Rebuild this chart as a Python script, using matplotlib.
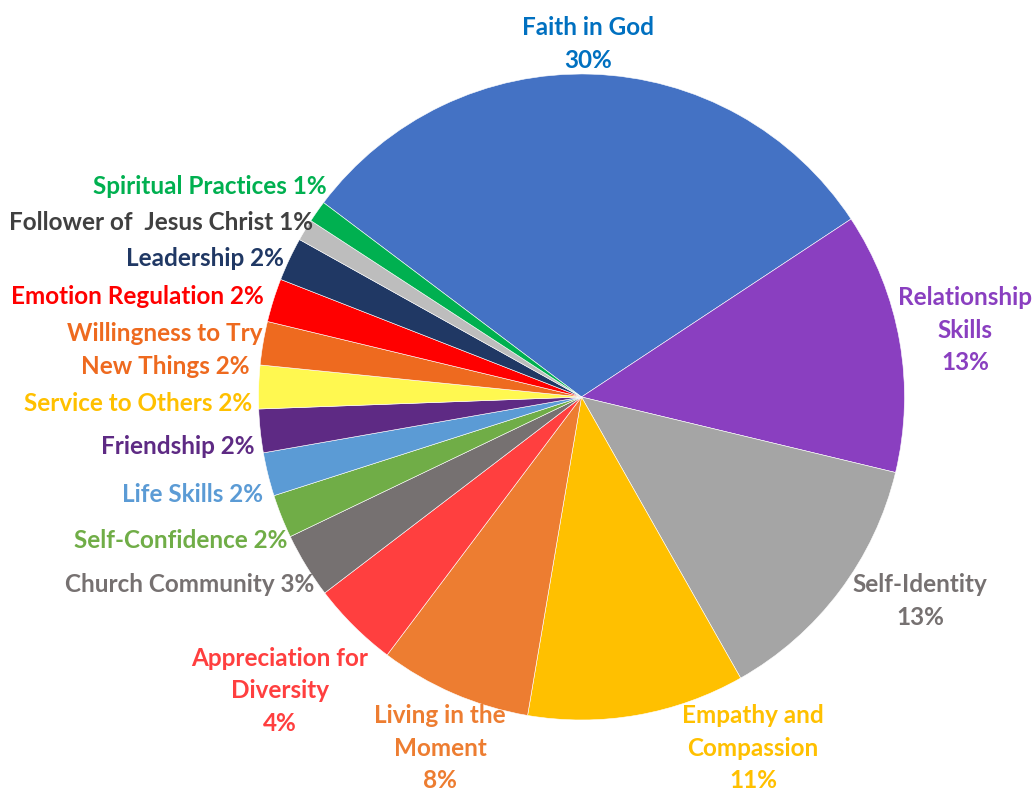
import matplotlib
matplotlib.use("Agg")
import matplotlib.pyplot as plt

# Survey responses: number of mentions per outcome category
categories = [
    "Faith in God", "Relationship\nSkills", "Self-Identity", "Empathy and\nCompassion",
    "Living in the\nMoment", "Appreciation for\nDiversity", "Church Community",
    "Self-Confidence", "Life Skills", "Friendship", "Service to Others",
    "Willingness to Try\nNew Things", "Emotion Regulation", "Leadership",
    "Follower of  Jesus Christ", "Spiritual Practices",
]
counts = [28, 12, 12, 10, 7, 4, 3, 2, 2, 2, 2, 2, 2, 2, 1, 1]

wedge_colors = [
    "#4472C4", "#8A3FC0", "#A5A5A5", "#FFC000", "#ED7D31", "#FF3F3F", "#767171",
    "#70AD47", "#5B9BD5", "#5E2A84", "#FFF850", "#EE6A1F", "#FF0000", "#203864",
    "#BDBDBD", "#00B050",
]
text_colors = [
    "#0070C0", "#8A3FC0", "#767171", "#FFC000", "#ED7D31", "#FF3F3F", "#767171",
    "#70AD47", "#5B9BD5", "#5E2A84", "#FFC000", "#EE6A1F", "#FF0000", "#203864",
    "#404040", "#00B050",
]
# label anchor (pixel x, pixel y from top) and whether the percent goes on its own line
label_pos = [
    (588, 44), (965, 330), (920, 601), (753, 748), (440, 748), (280, 691),
    (190, 584), (181, 540), (192, 494), (178, 446), (138, 403), (165, 350),
    (137, 297), (205, 258), (161, 223), (210, 186),
]
own_line = [True, True, True, True, True, True] + [False] * 10

W, H = 1036, 790
fig = plt.figure(figsize=(W / 100, H / 100), dpi=100)
cx, cy, r = 581.5, 397, 323
ax = fig.add_axes([(cx - r) / W, (H - cy - r) / H, 2 * r / W, 2 * r / H])
ax.pie(counts, colors=wedge_colors, startangle=143, counterclock=False,
       wedgeprops=dict(edgecolor="white", linewidth=0.4))
ax.set_xlim(-1, 1)
ax.set_ylim(-1, 1)
ax.set_aspect("equal")
ax.axis("off")

total = sum(counts)
for name, n, col, (x, y), sep in zip(categories, counts, text_colors, label_pos, own_line):
    pct = f"{round(100 * n / total)}%"
    txt = f"{name}\n{pct}" if sep else f"{name} {pct}"
    fig.text(x / W, 1 - y / H, txt, ha="center", va="center", color=col,
             fontsize=17.5, fontweight="bold", family="Lato", linespacing=1.5)

fig.savefig("out.png", dpi=100)
